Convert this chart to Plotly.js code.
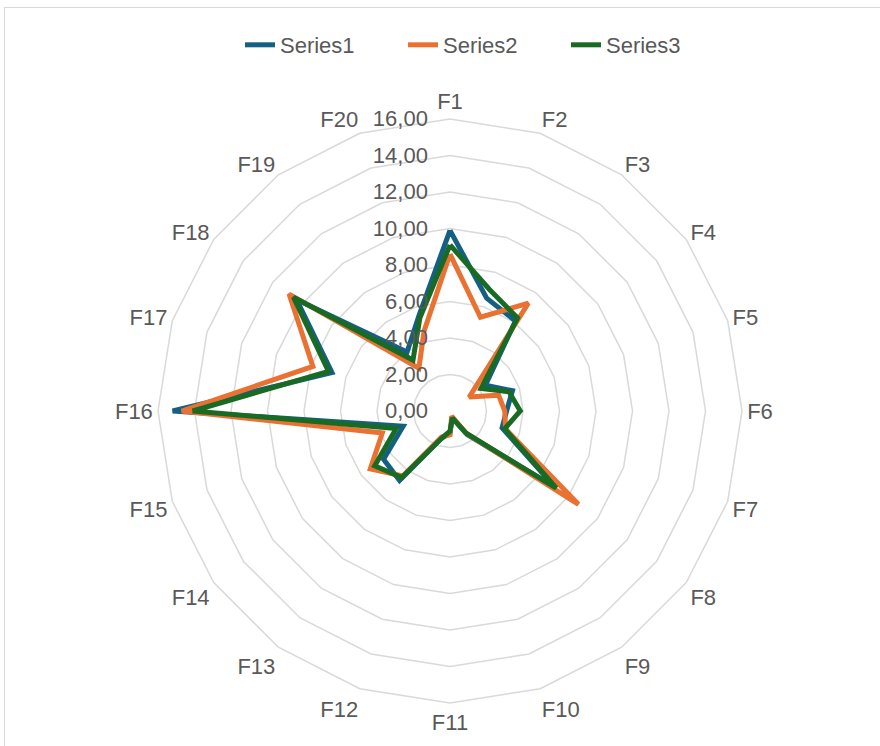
<!DOCTYPE html>
<html>
<head>
<meta charset="utf-8">
<script src="https://cdn.plot.ly/plotly-3.0.1.min.js"></script>
<style>
  html, body { margin: 0; padding: 0; background: #fff; }
  #chart { width: 880px; height: 746px; position: absolute; left: 0; top: 0; }
  #frame { position: absolute; left: 4px; top: 7px; width: 900px; height: 800px;
           border: 1.5px solid #d9d9d9; pointer-events: none; box-sizing: border-box; }
</style>
</head>
<body>
<div id="chart"></div>
<div id="frame"></div>
<script>
const categories = ["F1","F2","F3","F4","F5","F6","F7","F8","F9","F10",
                    "F11","F12","F13","F14","F15","F16","F17","F18","F19","F20"];
const seriesNames = ["Series1", "Series2", "Series3"];
const series1 = [9.9, 6.5, 6.1, 2.4, 3.6, 3.1, 3.0, 7.1, 1.6, 0.4,
                 1.2, 1.6, 4.7, 4.5, 2.7, 15.2, 6.8, 10.4, 4.0, 5.5];
const series2 = [8.6, 5.4, 7.3, 1.3, 2.8, 3.0, 3.2, 8.7, 1.5, 0.3,
                 1.3, 1.5, 4.4, 5.4, 3.9, 14.7, 7.9, 10.9, 2.9, 4.6];
const series3 = [9.1, 7.0, 6.3, 2.1, 3.4, 3.85, 3.15, 7.2, 1.5, 0.4,
                 1.1, 1.6, 4.5, 5.1, 3.1, 14.1, 7.0, 10.6, 3.45, 5.35];
const colors = ["#156082", "#E97132", "#196B24"];

const FONT = "'Liberation Sans', Arial, sans-serif";
const FS = 22;
const allSeries = [series1, series2, series3];
const traces = allSeries.map((vals, i) => ({
  type: "scatterpolar",
  mode: "lines",
  name: seriesNames[i],
  r: vals.concat([vals[0]]),
  theta: categories.concat([categories[0]]),
  line: { color: colors[i], width: 5 },
  hoverinfo: "skip"
}));

const layout = {
  width: 880, height: 746,
  margin: { l: 0, r: 0, t: 0, b: 0 },
  paper_bgcolor: "#ffffff",
  separators: ", ",
  font: { family: FONT, size: FS, color: "#595959" },
  showlegend: true,
  legend: {
    orientation: "h", x: 240/880, xanchor: "left", y: 1 - 45/746, yanchor: "middle",
    font: { family: FONT, size: FS, color: "#595959" }, itemwidth: 30,
    entrywidth: 118, entrywidthmode: "pixels"
  },
  polar: {
    domain: { x: [158/880, 742/880], y: [43/746, 627/746] },
    bgcolor: "rgba(0,0,0,0)",
    gridshape: "linear",
    angularaxis: {
      type: "category",
      categoryorder: "array",
      categoryarray: categories,
      rotation: 90,
      direction: "clockwise",
      showgrid: false,
      showline: true,
      linecolor: "#d9d9d9",
      linewidth: 1.5,
      ticks: "",
      tickfont: { family: FONT, size: FS, color: "#595959" }
    },
    radialaxis: {
      range: [0, 16],
      dtick: 2,
      tick0: 0,
      tickformat: ".2f",
      ticksuffix: "\u00a0\u00a0\u00a0",
      angle: 90,
      tickangle: 90,
      side: "counterclockwise",
      showline: false,
      ticks: "",
      gridcolor: "#d9d9d9",
      gridwidth: 1.5,
      tickfont: { family: FONT, size: FS, color: "#595959" }
    }
  }
};

Plotly.newPlot("chart", traces, layout, { staticPlot: true });
</script>
</body>
</html>
